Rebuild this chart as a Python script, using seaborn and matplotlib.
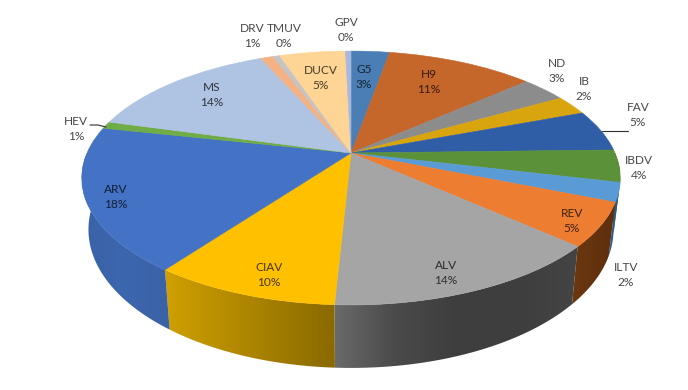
import matplotlib
matplotlib.use('Agg')
import numpy as np
import matplotlib.pyplot as plt
from matplotlib.patches import Polygon
from matplotlib.transforms import Transform
import seaborn as sns

# 数据 (clockwise from the top)
names = ["G5", "H9", "ND", "IB", "FAV", "IBDV", "ILTV", "REV", "ALV", "CIAV",
         "ARV", "HEV", "MS", "DRV", "TMUV", "DUCV", "GPV"]
values = [2.8, 10.7, 3.3, 2.5, 5.3, 4.1, 2.4, 5.5, 14.2, 9.3,
          18.3, 0.9, 14.1, 0.9, 0.5, 4.8, 0.4]
percent_labels = ["3%", "11%", "3%", "2%", "5%", "4%", "2%", "5%", "14%", "10%",
                  "18%", "1%", "14%", "1%", "0%", "5%", "0%"]

colors = ["#4A7EB5", "#C5662A", "#8C8C8C", "#D9A50F", "#2F5DA6", "#5B9239",
          "#5B9BD5", "#ED7D31", "#A5A5A5", "#FFC000", "#4472C4", "#70AD47",
          "#AFC3E2", "#F4B183", "#C4C4C4", "#FFD595", "#A9B8DC"]

# side wall shading, left to right
wall_colors = {
    "IBDV": ["#3F6A28", "#3F6A28"],
    "ILTV": ["#2F5F92", "#2A5580"],
    "REV": ["#6B370F", "#5E2F0D"],
    "ALV": ["#6A6A6A", "#4A4A4A", "#3E3E3E", "#3E3E3E", "#444444"],
    "CIAV": ["#CFA000", "#8A6A00"],
    "ARV": ["#3A62A8", "#3C66AE", "#3A62A6"],
}

label_pos = {
    "G5": (364, 77), "H9": (429, 82), "ND": (557, 71), "IB": (584, 89),
    "FAV": (638, 115), "IBDV": (639, 168), "ILTV": (626, 275), "REV": (572, 221),
    "ALV": (446, 273), "CIAV": (269, 275), "ARV": (116, 197), "HEV": (76, 129),
    "MS": (212, 95), "DRV": (252, 36), "TMUV": (284, 36), "DUCV": (321, 78),
    "GPV": (346, 30),
}

# 透视参数
cx, cy = 351, 153
rx, ry, tilt = 264, 122, 0.197


class TiltedDisc(Transform):
    # unit circle -> perspective ellipse in pixel coordinates
    input_dims = 2
    output_dims = 2

    def transform_non_affine(self, xy):
        xy = np.asarray(xy, dtype=float)
        w = 1 + tilt * xy[:, 1]
        return np.column_stack([cx + rx * xy[:, 0] / w, cy - ry * xy[:, 1] / w])


def draw_wall(ax, disc, name, theta1, theta2):
    t1, t2 = max(theta1, -180), min(theta2, 0)
    if t1 >= t2:
        return
    t = np.radians(np.linspace(t1, t2, 60))
    top = disc.transform(np.column_stack([np.cos(t), np.sin(t)]))
    low = np.column_stack([cx + 0.975 * (top[:, 0] - cx), 368 - 1.09 * (305 - top[:, 1])])
    pts = np.vstack([top, low[::-1]])
    cmap = sns.blend_palette(wall_colors.get(name, ["#555555", "#555555"]), as_cmap=True)
    im = ax.imshow(np.linspace(0, 1, 128).reshape(1, -1), cmap=cmap, aspect="auto", zorder=1,
                   extent=[pts[:, 0].min(), pts[:, 0].max(), pts[:, 1].max(), pts[:, 1].min()])
    im.set_clip_path(Polygon(pts, closed=True, transform=ax.transData))


def main():
    sns.set_theme(style="white")
    plt.rcParams['font.family'] = ['Lato', 'DejaVu Sans']

    fig = plt.figure(figsize=(6.88, 3.9), dpi=100)
    ax = fig.add_axes([0, 0, 1, 1])

    wedges, _ = ax.pie(values, colors=colors, startangle=90, counterclock=False, radius=1,
                       wedgeprops={"linewidth": 0.4})

    disc = TiltedDisc()
    for wedge, name in zip(wedges, names):
        wedge.set_edgecolor(wedge.get_facecolor())
        wedge.set_transform(disc + ax.transData)
        wedge.set_zorder(2)
        draw_wall(ax, disc, name, wedge.theta1, wedge.theta2)

    ax.set_aspect("auto")
    ax.set_xlim(0, 688)
    ax.set_ylim(390, 0)
    ax.axis("off")

    # 引线
    ax.plot([90, 98, 106], [125, 125, 127], color="#303030", lw=0.8, zorder=3)
    ax.plot([602, 628], [131, 131], color="#303030", lw=0.8, zorder=3)

    for name, pct in zip(names, percent_labels):
        x, y = label_pos[name]
        ax.text(x, y, f"{name}\n{pct}", ha="center", va="center", fontsize=8.6,
                linespacing=1.55, color="black", alpha=0.72, zorder=4)

    fig.savefig("out.png", dpi=100, facecolor="white")
    plt.close(fig)


if __name__ == "__main__":
    main()
